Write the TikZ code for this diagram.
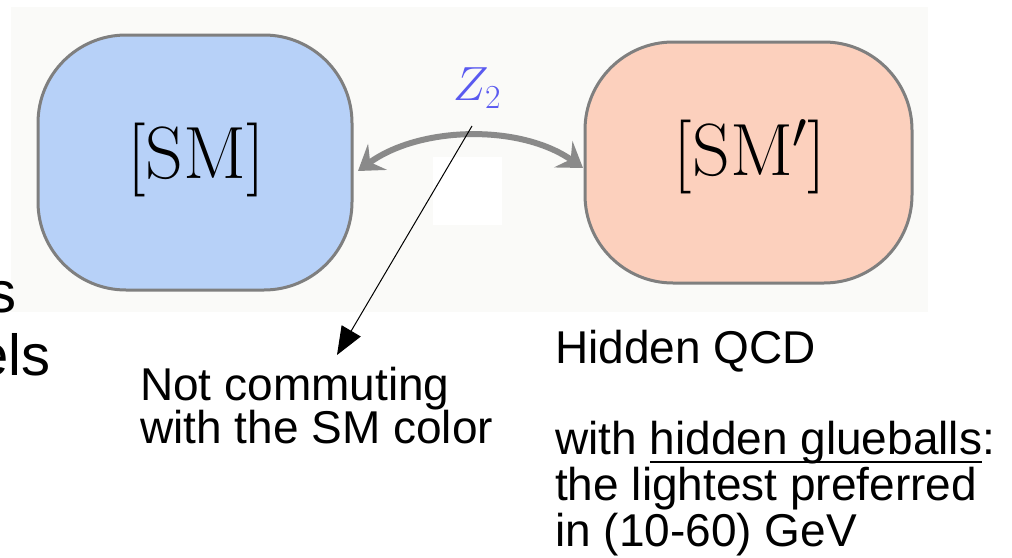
\RequirePackage{fix-cm}
\documentclass[tikz,border=0pt]{standalone}
\usepackage{fontspec}
\newfontfamily\arialf{Liberation Sans}
\usetikzlibrary{arrows.meta}
\definecolor{panelc}{HTML}{FAFAF8}
\definecolor{smblue}{HTML}{B7D1F8}
\definecolor{smpeach}{HTML}{FCD0BD}
\definecolor{boxedge}{HTML}{7F7F7F}
\definecolor{zblue}{HTML}{5A5AF0}
\definecolor{arrgray}{HTML}{8A8A8A}
\newcommand\myul[1]{{\setbox0\hbox{#1}\rlap{\rule[-0.19em]{\wd0}{0.045em}}\box0}}
\begin{document}
\begin{tikzpicture}[x=1pt,y=-1pt,
  sector/.style={draw=boxedge,line width=3pt,rounded corners=88pt},
  bigtxt/.style={font=\fontsize{74}{74}\selectfont,inner sep=0pt},
  sanstxt/.style={font=\arialf\fontsize{46}{46}\selectfont,inner sep=0pt,anchor=base west},
  fragtxt/.style={font=\arialf\fontsize{58}{58}\selectfont,inner sep=0pt,anchor=base east}]
\useasboundingbox (0,0) rectangle (1012,557);
\fill[panelc] (11,7) rectangle (928,312);
% boxes
\draw[sector,fill=smblue] (38,35) rectangle (352,290);
\draw[sector,fill=smpeach] (585,42) rectangle (912,283);
\node[bigtxt] (sm) at (196,160) {[SM]};
\node[bigtxt] (smp) at (750,157) {[SM$'$]};
\coordinate (smE) at (358,171);
\coordinate (smpW) at (583,168);
% white patch
\fill[white] (433,157) rectangle (502,225);
% Z2
\node[inner sep=0pt,text=zblue,font=\fontsize{48}{48}\selectfont] (z2) at (477,88) {$Z_2$};
% double arrow
\draw[arrgray,line width=6pt,{Stealth[length=24pt,width=32pt,inset=9pt]}-{Stealth[length=24pt,width=32pt,inset=9pt]}]
  (smE) .. controls (420,126) and (520,124) .. (smpW);
% pointer line
\coordinate (lstart) at (472,126);
\coordinate (ltip) at (337,355);
\draw[line width=1pt,-{Triangle[length=28pt,width=22pt]}] (lstart) -- (ltip);
% texts
\node[fragtxt] (fs) at (17,312) {s};
\node[fragtxt] (fels) at (51,375) {els};
\node[sanstxt] (nc1) at (140,400) {Not commuting};
\node[sanstxt] (nc2) at (140,443) {with the SM color};
\node[sanstxt] (hq) at (555,363) {Hidden QCD};
\node[sanstxt] (hg1) at (555,454) {with \myul{hidden glueballs}:};
\node[sanstxt] (hg2) at (555,500) {the lightest preferred};
\node[sanstxt] (hg3) at (555,546) {in (10-60) GeV};
\end{tikzpicture}
\end{document}
